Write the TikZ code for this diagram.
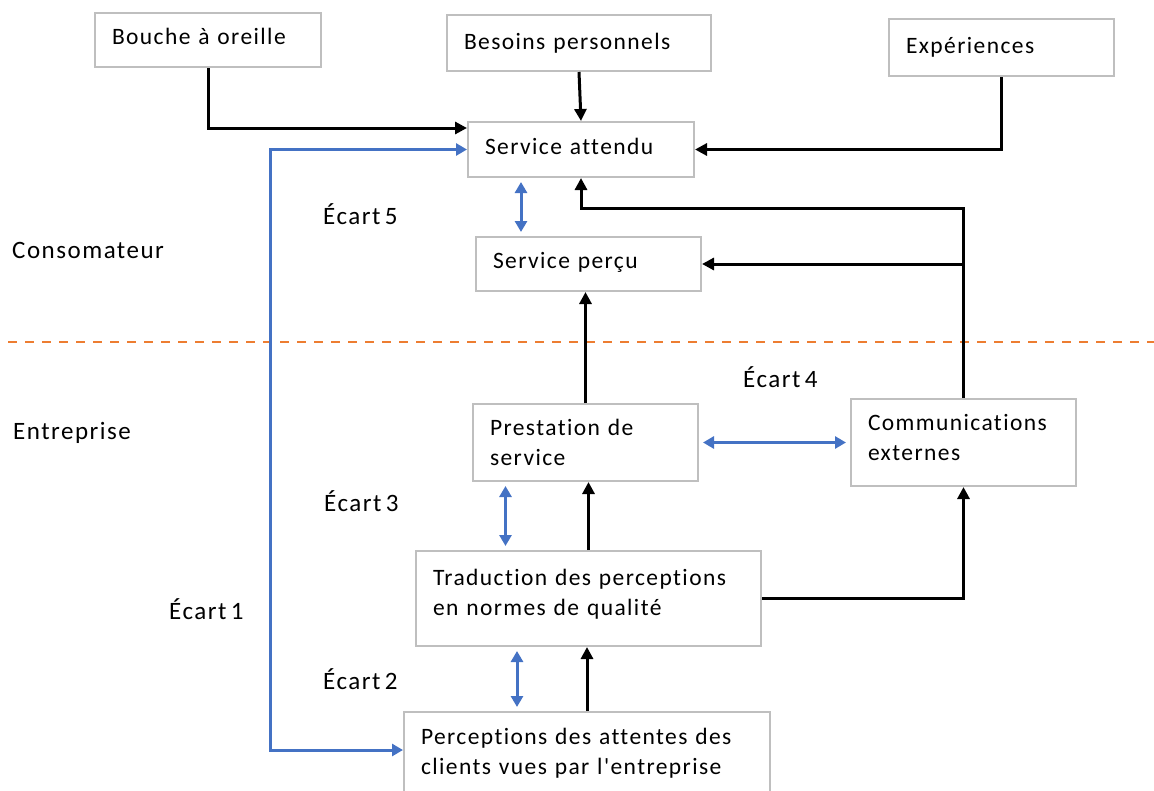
\documentclass[tikz,border=0pt]{standalone}
\usepackage{fontspec}
\setmainfont{Carlito}[LetterSpace=6,WordSpace=0.6,Ligatures={TeXOff,NoCommon}]
\usetikzlibrary{arrows.meta}
\definecolor{eblue}{HTML}{4472C4}
\definecolor{eorange}{HTML}{ED7D31}
\definecolor{egray}{HTML}{BFBFBF}
\begin{document}
\begin{tikzpicture}[x=1pt,y=-1pt,
  font=\fontsize{23.5}{30}\selectfont,
  box/.style={draw=egray, line width=2pt, anchor=north west, inner xsep=17pt, inner ysep=0pt, text depth=0pt, align=left},
  twoline/.style={text depth=30pt},
  lbl/.style={anchor=base west, inner sep=0pt, font=\fontsize{25}{30}\selectfont},
  conn/.style={line width=3pt, -{Triangle[length=12pt,width=12pt]}},
  gap/.style={line width=3pt, eblue, {Triangle[length=11pt,width=12pt]}-{Triangle[length=11pt,width=12pt]}, shorten <=4pt, shorten >=4pt}]
\useasboundingbox (0,0) rectangle (1154,790);
% boxes
\node[box, minimum width=226, minimum height=54, text width=192, text height=8pt] (bouche) at (94,12) {Bouche à oreille};
\node[box, minimum width=264, minimum height=56, text width=230, text height=12pt] (besoins) at (446,14) {Besoins personnels};
\node[box, minimum width=225, minimum height=57, text width=191, text height=11pt] (exp) at (888,18) {Expériences};
\node[box, minimum width=226, minimum height=55, text width=192, text height=9pt] (attendu) at (467,121) {Service attendu};
\node[box, minimum width=225, minimum height=54, text width=191, text height=8pt] (percu) at (475,236) {Service perçu};
\node[box, twoline, minimum width=225, minimum height=77, text width=191, text height=15pt] (prest) at (472,403) {Prestation de\\service};
\node[box, twoline, minimum width=225, minimum height=87, text width=191, text height=5pt] (comm) at (850,398) {Communications\\externes};
\node[box, twoline, minimum width=345, minimum height=95, text width=311, text height=3pt] (trad) at (415,550) {Traduction des perceptions\\en normes de qualité};
\node[box, twoline, minimum width=366, minimum height=88, text width=332, text height=6pt] (perc) at (403,711) {Perceptions des attentes des\\clients vues par l'entreprise};
% labels
\node[lbl] (conso) at (12,258) {Consomateur};
\node[lbl] (entr) at (13,439) {Entreprise};
\node[lbl] (e5) at (323,224) {Écart 5};
\node[lbl] (e4) at (743,387) {Écart 4};
\node[lbl] (e3) at (324,511) {Écart 3};
\node[lbl] (e1) at (169,619) {Écart 1};
\node[lbl] (e2) at (323,689) {Écart 2};
% divider
\coordinate (dl) at (8,342);
\coordinate (dr) at (1154,342);
\draw[eorange, line width=2pt, dash pattern=on 9pt off 8pt] (dl) -- (dr);
% black connectors
\draw[conn] (bouche.south) |- ([yshift=21.5pt]attendu.west);
\draw[conn] (besoins.south) -- (attendu.north);
\draw[conn] (exp.south) |- (attendu.east);
\draw[conn] (comm.north) -- ++(0,-190) -| (attendu.south);
\draw[conn] (comm.north |- percu.east) -- (percu.east);
\draw[conn] (prest.north) -- (prest.north |- percu.south);
\draw[conn] (trad.north) -- (trad.north |- prest.south);
\draw[conn] (trad.east) -| (comm.south);
\draw[conn] (perc.north) -- (perc.north |- trad.south);
% blue gaps
\draw[line width=3pt, eblue, {Triangle[length=11pt,width=12pt]}-{Triangle[length=11pt,width=12pt]}] (attendu.west) -| ++(-197,0) |- ([yshift=6pt]perc.west);
\draw[gap] ([xshift=-60pt]attendu.south) -- ([xshift=-60pt]attendu.south |- percu.north);
\draw[gap] (prest.east) -- (comm.west);
\draw[gap] ([xshift=-80pt]prest.south) -- ([xshift=-80pt]prest.south |- trad.north);
\draw[gap] ([xshift=-70pt]perc.north) -- ([xshift=-70pt]perc.north |- trad.south);
\end{tikzpicture}
\end{document}
